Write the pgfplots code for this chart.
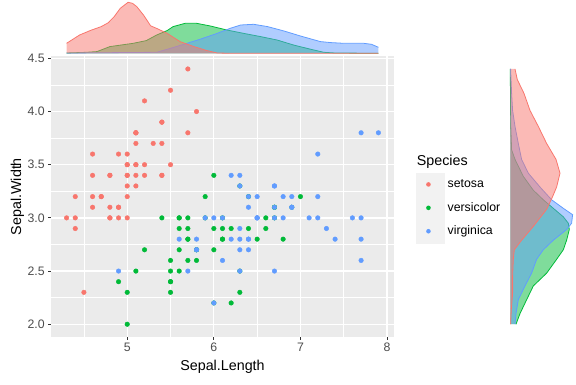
\documentclass[border=0pt]{standalone}
\usepackage{pgfplots}
\pgfplotsset{compat=1.18}
\usepackage{fontspec}
\setmainfont{Liberation Sans}
\definecolor{setosa}{HTML}{F8766D}
\definecolor{versicolor}{HTML}{00BA38}
\definecolor{virginica}{HTML}{619CFF}
\definecolor{panelbg}{HTML}{EBEBEB}
\definecolor{keybg}{HTML}{F2F2F2}
\definecolor{ticklab}{HTML}{4D4D4D}
\definecolor{tickcol}{HTML}{333333}
\begin{document}
\begin{tikzpicture}
\useasboundingbox (0,0) rectangle (576pt,384pt);
% ---------------- main scatter ----------------
\begin{axis}[
  at={(51pt,47pt)}, anchor=south west,
  scale only axis, width=343pt, height=280.8pt,
  xmin=4.12, xmax=8.08, ymin=1.88, ymax=4.52,
  axis background/.style={fill=panelbg},
  axis line style={draw=none},
  xtick={5,6,7,8}, ytick={2,2.5,3,3.5,4,4.5},
  minor xtick={4.5,5.5,6.5,7.5},
  minor ytick={2.25,2.75,3.25,3.75,4.25},
  grid=both,
  major grid style={white, line width=1.3pt},
  minor grid style={white, line width=0.6pt},
  tick align=outside, tickpos=left,
  major tick length=2.75pt, minor tick length=0pt,
  tick style={tickcol, line width=0.9pt},
  /pgf/number format/assume math mode=true,
  yticklabel style={/pgf/number format/.cd, fixed, fixed zerofill, precision=1},
  ticklabel style={font=\fontsize{12.3}{13}\selectfont, text=ticklab},
  legend style={draw=none, fill=none, inner sep=0pt, outer sep=0pt,
    at={(1.064,0.585)}, anchor=north west, row sep=0pt, column sep=3.6pt,
    nodes={inner sep=0pt},
    font=\fontsize{12.3}{13}\selectfont},
  legend cell align=left,
  legend image code/.code={\fill[keybg] (-12.3pt,-11.5pt) rectangle (15.4pt,11.5pt);
     \fill[#1, draw=none] (0,0) circle (2.3pt);},
]
\addplot[only marks, mark=*, mark size=2.3pt, color=setosa, mark options={draw=none, fill=setosa}] table {
5.1 3.5
4.9 3.0
4.7 3.2
4.6 3.1
5.0 3.6
5.4 3.9
4.6 3.4
5.0 3.4
4.4 2.9
4.9 3.1
5.4 3.7
4.8 3.4
4.8 3.0
4.3 3.0
5.8 4.0
5.7 4.4
5.4 3.9
5.1 3.5
5.7 3.8
5.1 3.8
5.4 3.4
5.1 3.7
4.6 3.6
5.1 3.3
4.8 3.4
5.0 3.0
5.0 3.4
5.2 3.5
5.2 3.4
4.7 3.2
4.8 3.1
5.4 3.4
5.2 4.1
5.5 4.2
4.9 3.1
5.0 3.2
5.5 3.5
4.9 3.6
4.4 3.0
5.1 3.4
5.0 3.5
4.5 2.3
4.4 3.2
5.0 3.5
5.1 3.8
4.8 3.0
5.1 3.8
4.6 3.2
5.3 3.7
5.0 3.3
};
\addlegendentry{setosa}
\addplot[only marks, mark=*, mark size=2.3pt, color=versicolor, mark options={draw=none, fill=versicolor}] table {
7.0 3.2
6.4 3.2
6.9 3.1
5.5 2.3
6.5 2.8
5.7 2.8
6.3 3.3
4.9 2.4
6.6 2.9
5.2 2.7
5.0 2.0
5.9 3.0
6.0 2.2
6.1 2.9
5.6 2.9
6.7 3.1
5.6 3.0
5.8 2.7
6.2 2.2
5.6 2.5
5.9 3.2
6.1 2.8
6.3 2.5
6.1 2.8
6.4 2.9
6.6 3.0
6.8 2.8
6.7 3.0
6.0 2.9
5.7 2.6
5.5 2.4
5.5 2.4
5.8 2.7
6.0 2.7
5.4 3.0
6.0 3.4
6.7 3.1
6.3 2.3
5.6 3.0
5.5 2.5
5.5 2.6
6.1 3.0
5.8 2.6
5.0 2.3
5.6 2.7
5.7 3.0
5.7 2.9
6.2 2.9
5.1 2.5
5.7 2.8
};
\addlegendentry{versicolor}
\addplot[only marks, mark=*, mark size=2.3pt, color=virginica, mark options={draw=none, fill=virginica}] table {
6.3 3.3
5.8 2.7
7.1 3.0
6.3 2.9
6.5 3.0
7.6 3.0
4.9 2.5
7.3 2.9
6.7 2.5
7.2 3.6
6.5 3.2
6.4 2.7
6.8 3.0
5.7 2.5
5.8 2.8
6.4 3.2
6.5 3.0
7.7 3.8
7.7 2.6
6.0 2.2
6.9 3.2
5.6 2.8
7.7 2.8
6.3 2.7
6.7 3.3
7.2 3.2
6.2 2.8
6.1 3.0
6.4 2.8
7.2 3.0
7.4 2.8
7.9 3.8
6.4 2.8
6.3 2.8
6.1 2.6
7.7 3.0
6.3 3.4
6.4 3.1
6.0 3.0
6.9 3.1
6.7 3.1
6.9 3.1
5.8 2.7
6.8 3.2
6.7 3.3
6.7 3.0
6.3 2.5
6.5 3.0
6.2 3.4
5.9 3.0
};
\addlegendentry{virginica}
\end{axis}
% ---------------- top marginal density ----------------
\begin{axis}[
  at={(51pt,330.7pt)}, anchor=south west,
  scale only axis, width=343pt, height=53.3pt,
  xmin=4.12, xmax=8.08, ymin=0, ymax=53.3,
  hide axis, clip=false,
]
\addplot[fill=versicolor, fill opacity=0.5, draw=none] table {
4.30 0.3
4.53 1.0
4.65 1.7
4.80 6.7
5.07 10.0
5.22 12.7
5.34 18.3
5.46 22.7
5.53 26.7
5.67 30.0
5.80 30.0
5.96 27.3
6.15 23.3
6.34 20.0
6.54 16.7
6.73 13.3
6.92 8.3
7.12 4.0
7.27 1.0
7.40 0.3
7.90 0.0
} \closedcycle;
\addplot[versicolor, line width=0.8pt] table {
4.30 0.3
4.53 1.0
4.65 1.7
4.80 6.7
5.07 10.0
5.22 12.7
5.34 18.3
5.46 22.7
5.53 26.7
5.67 30.0
5.80 30.0
5.96 27.3
6.15 23.3
6.34 20.0
6.54 16.7
6.73 13.3
6.92 8.3
7.12 4.0
7.27 1.0
7.40 0.3
7.90 0.0
};
\addplot[fill=virginica, fill opacity=0.5, draw=none] table {
4.30 0.3
4.90 0.7
5.34 1.0
5.50 5.0
5.69 10.0
5.84 14.0
6.04 20.0
6.19 25.0
6.31 28.3
6.46 29.0
6.62 26.7
6.81 22.3
7.00 17.3
7.23 11.7
7.35 10.7
7.50 10.0
7.73 10.0
7.82 9.0
7.90 6.0
} \closedcycle;
\addplot[virginica, line width=0.8pt] table {
4.30 0.3
4.90 0.7
5.34 1.0
5.50 5.0
5.69 10.0
5.84 14.0
6.04 20.0
6.19 25.0
6.31 28.3
6.46 29.0
6.62 26.7
6.81 22.3
7.00 17.3
7.23 11.7
7.35 10.7
7.50 10.0
7.73 10.0
7.82 9.0
7.90 6.0
};
\addplot[fill=setosa, fill opacity=0.5, draw=none] table {
4.30 10.0
4.45 18.3
4.58 23.0
4.70 26.7
4.78 30.5
4.85 36.7
4.92 45.0
5.01 51.0
5.06 50.0
5.11 46.7
5.19 38.0
5.27 27.5
5.35 24.5
5.46 20.0
5.61 11.7
5.77 6.7
5.92 2.7
6.04 0.3
6.20 0.0
7.90 0.0
} \closedcycle;
\addplot[setosa, line width=0.8pt] table {
4.30 10.0
4.45 18.3
4.58 23.0
4.70 26.7
4.78 30.5
4.85 36.7
4.92 45.0
5.01 51.0
5.06 50.0
5.11 46.7
5.19 38.0
5.27 27.5
5.35 24.5
5.46 20.0
5.61 11.7
5.77 6.7
5.92 2.7
6.04 0.3
6.20 0.0
7.90 0.0
};
\end{axis}
% ---------------- right marginal density ----------------
\begin{axis}[
  at={(510.3pt,47pt)}, anchor=south west,
  scale only axis, width=65pt, height=280.8pt,
  xmin=0, xmax=65, ymin=1.88, ymax=4.52,
  hide axis, clip=false,
]
\addplot[fill=versicolor, fill opacity=0.5, draw=none] table {
0 4.40
0.0 4.40
0.2 4.06
0.5 3.86
1.3 3.64
4.7 3.55
13.0 3.39
23.0 3.26
33.0 3.17
43.0 3.09
53.0 3.01
58.0 2.95
59.0 2.89
56.3 2.79
53.0 2.70
46.3 2.61
36.3 2.48
23.0 2.36
16.3 2.23
9.7 2.10
5.7 2.00
0 2.00
};
\addplot[versicolor, line width=0.8pt] table {
0.0 4.40
0.2 4.06
0.5 3.86
1.3 3.64
4.7 3.55
13.0 3.39
23.0 3.26
33.0 3.17
43.0 3.09
53.0 3.01
58.0 2.95
59.0 2.89
56.3 2.79
53.0 2.70
46.3 2.61
36.3 2.48
23.0 2.36
16.3 2.23
9.7 2.10
5.7 2.00
};
\addplot[fill=virginica, fill opacity=0.5, draw=none] table {
0 4.40
0.3 4.40
1.3 4.17
2.3 4.01
4.7 3.86
8.0 3.70
11.3 3.55
18.0 3.42
29.7 3.29
41.3 3.17
53.0 3.09
62.3 3.03
61.3 2.95
56.3 2.89
43.0 2.79
33.0 2.70
26.3 2.61
21.3 2.48
14.7 2.36
8.0 2.23
5.7 2.10
4.7 2.00
0 2.00
};
\addplot[virginica, line width=0.8pt] table {
0.3 4.40
1.3 4.17
2.3 4.01
4.7 3.86
8.0 3.70
11.3 3.55
18.0 3.42
29.7 3.29
41.3 3.17
53.0 3.09
62.3 3.03
61.3 2.95
56.3 2.89
43.0 2.79
33.0 2.70
26.3 2.61
21.3 2.48
14.7 2.36
8.0 2.23
5.7 2.10
4.7 2.00
};
\addplot[fill=setosa, fill opacity=0.5, draw=none] table {
0 4.40
4.7 4.40
7.0 4.30
13.7 4.17
19.7 4.01
28.0 3.86
36.3 3.70
45.7 3.55
49.7 3.42
46.3 3.29
42.3 3.20
36.3 3.08
23.0 2.92
11.3 2.79
4.0 2.70
3.0 2.61
2.3 2.45
2.3 2.29
1.0 2.14
0.3 2.00
0 2.00
};
\addplot[setosa, line width=0.8pt] table {
4.7 4.40
7.0 4.30
13.7 4.17
19.7 4.01
28.0 3.86
36.3 3.70
45.7 3.55
49.7 3.42
46.3 3.29
42.3 3.20
36.3 3.08
23.0 2.92
11.3 2.79
4.0 2.70
3.0 2.61
2.3 2.45
2.3 2.29
1.0 2.14
0.3 2.00
};
\end{axis}
% ---------------- titles ----------------
\node[font=\fontsize{14.3}{15}\selectfont, anchor=center] at (222.5pt,17.3pt) {Sepal.Length};
\node[font=\fontsize{14.3}{15}\selectfont, anchor=center, rotate=90] at (17.5pt,187.4pt) {Sepal.Width};
\node[font=\fontsize{14.3}{15}\selectfont, anchor=base west, inner sep=0pt] at (416.7pt,219pt) {Species};
\end{tikzpicture}
\end{document}
